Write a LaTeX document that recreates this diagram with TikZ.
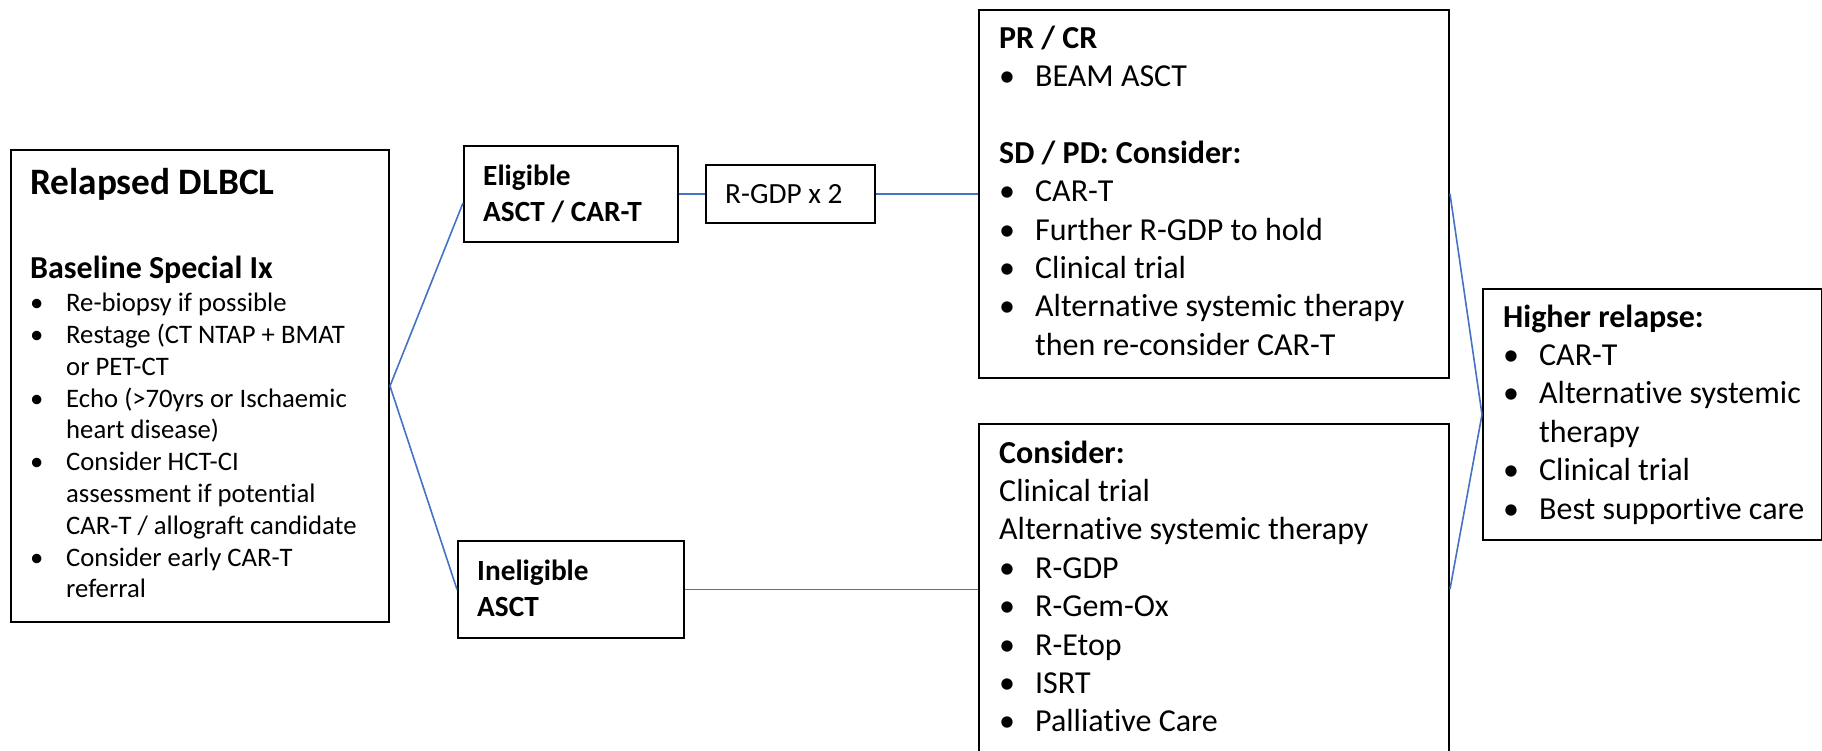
\documentclass[tikz,border=0pt]{standalone}
\usepackage{fontspec}
\setmainfont{Carlito}[Ligatures=NoCommon]
\definecolor{connblue}{HTML}{4472C4}
\newcommand{\itm}[1]{\par\noindent\hangindent=36pt\hangafter=1\makebox[36pt][l]{\textbullet}#1}
\newcommand{\blk}[4]{\vtop{\hsize=#1pt\fontsize{#2}{#3}\selectfont\parindent=0pt\raggedright\noindent #4\par}}
\tikzset{
  box/.style={draw=black, line width=2pt, fill=white, inner sep=0pt, anchor=north west},
  conn/.style={draw=connblue, line width=1.6pt},
  txt/.style={anchor=base west, inner sep=0pt, align=left}
}
\begin{document}
\begin{tikzpicture}[x=1pt,y=-1pt]
\useasboundingbox (0,0) rectangle (1822,750);
% boxes
\node[box, minimum width=378.5pt, minimum height=472pt] (rel) at (9.5,149) {};
\node[box, minimum width=214pt, minimum height=96pt] (elig) at (463,145) {};
\node[box, minimum width=169pt, minimum height=58pt] (rgdp) at (705,164) {};
\node[box, minimum width=226pt, minimum height=97pt] (inel) at (457,540) {};
\node[box, minimum width=470pt, minimum height=368pt] (prcr) at (978,9) {};
\node[box, minimum width=470pt, minimum height=330pt] (cons) at (978,423) {};
\node[box, minimum width=339pt, minimum height=251pt] (high) at (1482,288) {};
% connectors
\draw[conn] (rel.east) -- ([yshift=-9pt]elig.west);
\draw[conn] (rel.east) -- (inel.west);
\draw[conn] (elig.east) -- (rgdp.west);
\draw[conn] (rgdp.east) -- (rgdp.east -| prcr.west);
\draw[conn] (inel.east) -- (inel.east -| cons.west);
\draw[conn] (prcr.east) -- (high.west);
\draw[conn] (cons.east) -- (high.west);
% texts
\node[txt] (rel-t) at (30,194) {\fontsize{37.3}{44}\selectfont\bfseries Relapsed DLBCL};
\node[txt] (rel-s) at (30,278) {\fontsize{32}{38}\selectfont\bfseries Baseline Special Ix};
\node[txt] (rel-l) at (30,311.7) {\blk{360}{26.7}{31.8}{%
\itm{Re-biopsy if possible}
\itm{Restage (CT NTAP + BMAT\newline or PET-CT}
\itm{Echo (>70yrs or Ischaemic\newline heart disease)}
\itm{Consider HCT-CI\newline assessment if potential\newline CAR-T / allograft candidate}
\itm{Consider early CAR-T\newline referral}}};
\node[txt] (elig-t) at (483,185) {\blk{200}{29.3}{36.7}{\bfseries Eligible\newline ASCT / CAR-T}};
\node[txt] (rgdp-t) at (725,203.3) {\fontsize{29.3}{35}\selectfont R-GDP x 2};
\node[txt] (inel-t) at (477,580) {\blk{200}{29.3}{36.7}{\bfseries Ineligible\newline ASCT}};
\node[txt] (prcr-t) at (999,48) {\blk{440}{32}{38.4}{%
\textbf{PR / CR}
\itm{BEAM ASCT}
\par\mbox{}
\par\noindent\textbf{SD / PD: Consider:}
\itm{CAR-T}
\itm{Further R-GDP to hold}
\itm{Clinical trial}
\itm{Alternative systemic therapy\newline then re-consider CAR-T}}};
\node[txt] (cons-t) at (999,463) {\blk{440}{32}{38.4}{%
\textbf{Consider:}
\par\noindent Clinical trial
\par\noindent Alternative systemic therapy
\itm{R-GDP}
\itm{R-Gem-Ox}
\itm{R-Etop}
\itm{ISRT}
\itm{Palliative Care}}};
\node[txt] (high-t) at (1503,327) {\blk{310}{32}{38.4}{%
\textbf{Higher relapse:}
\itm{CAR-T}
\itm{Alternative systemic\newline therapy}
\itm{Clinical trial}
\itm{Best supportive care}}};
\end{tikzpicture}
\end{document}
